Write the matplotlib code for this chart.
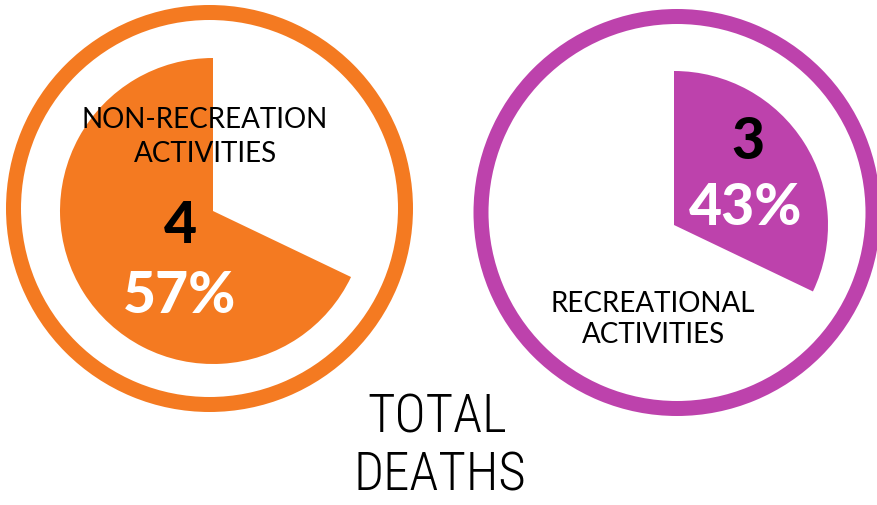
import matplotlib
matplotlib.use("Agg")
import matplotlib.pyplot as plt

# data
categories = ["NON-RECREATION\nACTIVITIES", "RECREATIONAL\nACTIVITIES"]
deaths = [4, 3]
percent_labels = ["57%", "43%"]
# share of the circle that the coloured wedge actually covers in the graphic
wedge_share = [0.679, 0.321]
colors = ["#F47A21", "#BD42AC"]

fig = plt.figure(figsize=(8.78, 5.06), dpi=100)
ax = fig.add_axes([0, 0, 1, 1])
ax.set_xlim(0, 878)
ax.set_ylim(0, 506)
ax.set_aspect("equal")
ax.axis("off")

label_font = dict(family=["Lato", "DejaVu Sans"], fontweight="normal", fontsize=20, color="black")
num_font = dict(family=["Lato", "DejaVu Sans"], fontweight="black", fontsize=41)

# left: non-recreation
ax.pie([1], colors=[colors[0]], center=(209.5, 296.5), radius=203.5,
       wedgeprops=dict(width=15, linewidth=0))
ax.pie([wedge_share[0], 1 - wedge_share[0]], colors=[colors[0], "none"],
       center=(213, 294), radius=153, startangle=90, counterclock=True,
       wedgeprops=dict(linewidth=0))
left_lines = categories[0].split("\n")
ax.text(205, 378, left_lines[0], ha="center", va="baseline", **label_font)
ax.text(205, 344, left_lines[1], ha="center", va="baseline", **label_font)
ax.text(180, 263, str(deaths[0]), ha="center", va="baseline", color="black", **num_font)
ax.text(180, 193, percent_labels[0], ha="center", va="baseline", color="white", **num_font)

# right: recreational
ax.pie([1], colors=[colors[1]], center=(677, 292.5), radius=203.5,
       wedgeprops=dict(width=15, linewidth=0))
ax.pie([wedge_share[1], 1 - wedge_share[1]], colors=[colors[1], "none"],
       center=(674, 280), radius=154, startangle=90, counterclock=False,
       wedgeprops=dict(linewidth=0))
right_lines = categories[1].split("\n")
ax.text(653, 194, right_lines[0], ha="center", va="baseline", **label_font)
ax.text(653, 163, right_lines[1], ha="center", va="baseline", **label_font)
ax.text(748, 347, str(deaths[1]), ha="center", va="baseline", color="black", **num_font)
ax.text(746, 281, percent_labels[1], ha="center", va="baseline", color="white", **num_font)

# title at the bottom
title_font = dict(family=["Roboto Condensed", "Liberation Sans Narrow", "DejaVu Sans"],
                  fontweight="light", fontsize=38, color="black")
ax.text(437, 73, "TOTAL", ha="center", va="baseline", **title_font)
ax.text(440, 15, "DEATHS", ha="center", va="baseline", **title_font)

ax.set_xlim(0, 878)
ax.set_ylim(0, 506)
fig.savefig("out.png", dpi=100)
